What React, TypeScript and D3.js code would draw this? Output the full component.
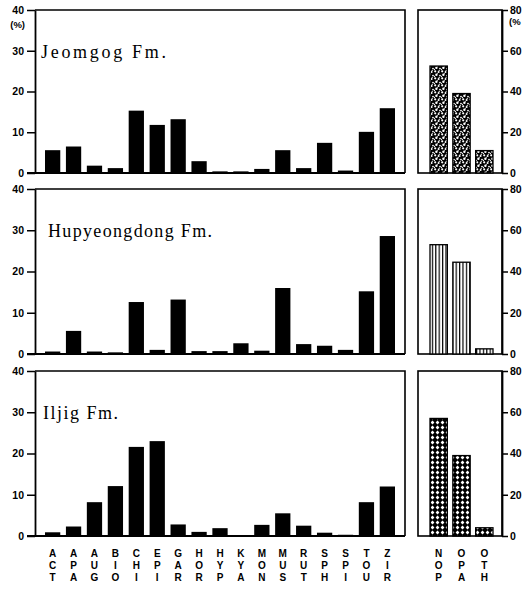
import React, { useEffect, useRef } from "react";
import * as d3 from "d3";

// heavy minerals, left panels (%)
const minerals = ["ACT", "APA", "AUG", "BIO", "CHI", "EPI", "GAR", "HOR", "HYP", "KYA", "MON", "MUS", "RUT", "SPH", "SPI", "TOU", "ZIR"];
const jeomgog = [5.6, 6.5, 1.8, 1.2, 15.3, 11.8, 13.2, 2.9, 0.4, 0.4, 1.0, 5.6, 1.2, 7.4, 0.6, 10.1, 15.9];
const hupyeongdong = [0.6, 5.6, 0.6, 0.4, 12.6, 1.0, 13.2, 0.7, 0.7, 2.6, 0.8, 16.0, 2.4, 2.0, 1.0, 15.2, 28.6];
const iljig = [0.9, 2.3, 8.2, 12.1, 21.6, 23.0, 2.8, 1.0, 1.9, 0, 2.7, 5.5, 2.5, 0.8, 0.3, 8.2, 12.0];

// opaque / non-opaque, right panels (%)
const groups = ["NOP", "OPA", "OTH"];
const jeomgogOpaque = [52.5, 39, 11];
const hupyeongdongOpaque = [53, 44.5, 2.5];
const iljigOpaque = [57, 39, 4];

const formations = ["Jeomgog Fm.", "Hupyeongdong Fm.", "Iljig Fm."];
const leftTicks = [0, 10, 20, 30, 40];
const rightTicks = [0, 20, 40, 60, 80];

const W = 527;
const H = 589;

// layout of the three rows
const panels = [
  { top: 10, base: 173, vals: jeomgog, opq: jeomgogOpaque, fill: "url(#stipple)", tx: 41, tw: 125 },
  { top: 189, base: 354, vals: hupyeongdong, opq: hupyeongdongOpaque, fill: "url(#vstripe)", tx: 48, tw: 164 },
  { top: 371, base: 536, vals: iljig, opq: iljigOpaque, fill: "url(#cross)", tx: 43, tw: 75 },
];

const sans = "'Liberation Sans', Arial, sans-serif";
const serif = "'Liberation Serif', 'Times New Roman', serif";

export default function App() {
  const svgRef = useRef<SVGSVGElement>(null);

  useEffect(() => {
    const svg = d3.select(svgRef.current);
    svg.selectAll("*").remove();

    const defs = svg.append("defs");
    // speckled fill
    const st = defs.append("pattern").attr("id", "stipple").attr("patternUnits", "userSpaceOnUse")
      .attr("width", 7).attr("height", 7);
    st.append("rect").attr("width", 7).attr("height", 7).attr("fill", "#000");
    [[1.2, 1.3, 1.1], [4.6, 2.0, 1.0], [2.4, 4.8, 1.2], [6.0, 5.6, 0.9], [5.2, 0.2, 0.7], [0.3, 6.5, 0.7], [3.4, 3.2, 0.5]].forEach(([cx, cy, r]) =>
      st.append("circle").attr("cx", cx).attr("cy", cy).attr("r", r).attr("fill", "#fff"));
    // vertical lines
    const vs = defs.append("pattern").attr("id", "vstripe").attr("patternUnits", "userSpaceOnUse")
      .attr("width", 3.4).attr("height", 4);
    vs.append("rect").attr("width", 3.4).attr("height", 4).attr("fill", "#fff");
    vs.append("rect").attr("x", 0).attr("width", 1.2).attr("height", 4).attr("fill", "#000");
    // cross hatch
    const cr = defs.append("pattern").attr("id", "cross").attr("patternUnits", "userSpaceOnUse")
      .attr("width", 5).attr("height", 5);
    cr.append("rect").attr("width", 5).attr("height", 5).attr("fill", "#000");
    cr.append("path").attr("d", "M2.5,0.6L4.4,2.5L2.5,4.4L0.6,2.5Z").attr("fill", "#fff");

    const x = d3.scaleBand().domain(minerals).range([45, 395]).paddingInner(0.27);
    const xR = d3.scaleBand().domain(groups).range([430, 493]).paddingInner(0.24);

    panels.forEach((p, i) => {
      const y = d3.scaleLinear().domain([0, 40]).range([p.base, p.top]);
      const yR = d3.scaleLinear().domain([0, 80]).range([p.base, p.top]);
      const g = svg.append("g");

      // left frame
      g.append("path")
        .attr("d", `M35,${y(40)}H405V${y(0)}`)
        .attr("fill", "none").attr("stroke", "#000").attr("stroke-width", 1.6);
      g.append("line").attr("x1", 27).attr("x2", 405).attr("y1", y(0)).attr("y2", y(0))
        .attr("stroke", "#000").attr("stroke-width", 1.8);

      const ax = g.append("g").attr("transform", "translate(35,0)")
        .call(d3.axisLeft(y).tickValues(leftTicks).tickSize(8).tickSizeOuter(0).tickPadding(3));
      ax.select(".domain").attr("stroke-width", 1.8);
      ax.selectAll(".tick line").attr("stroke-width", 1.5);
      ax.selectAll("text").attr("font-family", sans).attr("font-weight", "bold").attr("font-size", 10.5);
      if (i === 0) {
        g.append("text").attr("x", 25).attr("y", 28).attr("text-anchor", "end")
          .attr("font-family", sans).attr("font-weight", "bold").attr("font-size", 9.5).text("(%)");
      }

      g.append("text").attr("x", p.tx).attr("y", y(30) + 7)
        .attr("font-family", serif).attr("font-size", 18)
        .attr("textLength", p.tw).attr("lengthAdjust", "spacing")
        .text(formations[i]);

      g.selectAll(".bar").data(p.vals).join("rect")
        .attr("x", (_, j) => x(minerals[j])!)
        .attr("y", (v) => y(v))
        .attr("width", x.bandwidth())
        .attr("height", (v) => y(0) - y(v))
        .attr("fill", "#000");

      // right frame
      g.append("rect").attr("x", 418).attr("y", yR(80)).attr("width", 84).attr("height", yR(0) - yR(80))
        .attr("fill", "none").attr("stroke", "#000").attr("stroke-width", 1.6);
      const ar = g.append("g").attr("transform", "translate(502,0)")
        .call(d3.axisRight(yR).tickValues(rightTicks).tickSize(6).tickSizeOuter(0).tickPadding(2));
      ar.select(".domain").attr("stroke-width", 1.8);
      ar.selectAll(".tick line").attr("stroke-width", 1.5);
      ar.selectAll("text").attr("font-family", sans).attr("font-weight", "bold").attr("font-size", 10.5);
      if (i === 0) {
        g.append("text").attr("x", 509).attr("y", 25)
          .attr("font-family", sans).attr("font-weight", "bold").attr("font-size", 9.5).text("(%");
      }

      g.selectAll(".obar").data(p.opq).join("rect")
        .attr("x", (_, j) => xR(groups[j])!)
        .attr("y", (v) => yR(v))
        .attr("width", xR.bandwidth())
        .attr("height", (v) => yR(0) - yR(v))
        .attr("fill", p.fill).attr("stroke", "#000").attr("stroke-width", 1.3);
    });

    // stacked category letters under the bottom row
    const rows = [556.5, 568.5, 580.5];
    const lab = svg.append("g").attr("font-family", sans).attr("font-weight", "bold")
      .attr("font-size", 10).attr("text-anchor", "middle");
    minerals.forEach((m) => {
      m.split("").forEach((c, k) =>
        lab.append("text").attr("x", x(m)! + x.bandwidth() / 2).attr("y", rows[k]).text(c));
    });
    groups.forEach((m) => {
      m.split("").forEach((c, k) =>
        lab.append("text").attr("x", xR(m)! + xR.bandwidth() / 2).attr("y", rows[k]).text(c));
    });
  }, []);

  return (
    <svg ref={svgRef} width={W} height={H}
      style={{ position: "absolute", left: 0, top: 0, background: "#fff" }} />
  );
}
